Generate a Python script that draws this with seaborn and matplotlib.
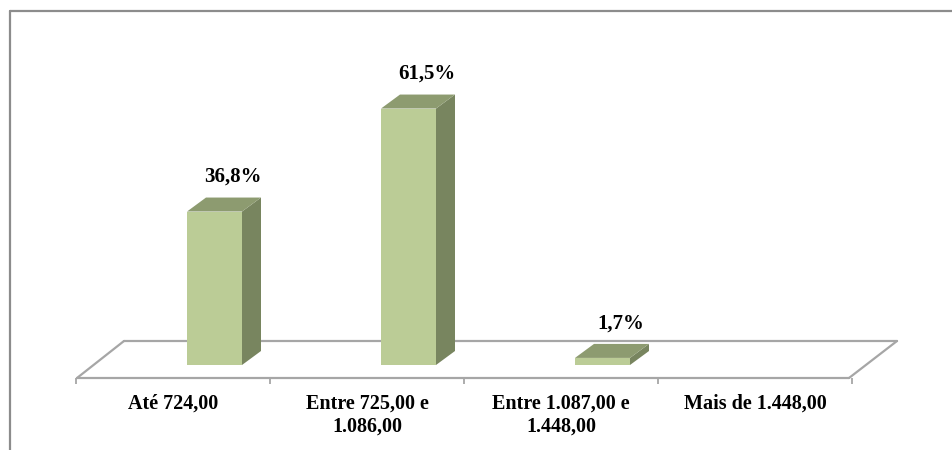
import numpy as np
import pandas as pd
import matplotlib
matplotlib.use("Agg")
import matplotlib.pyplot as plt
from matplotlib.patches import Polygon
from matplotlib.lines import Line2D
from matplotlib.ticker import FixedLocator
import seaborn as sns

# Income bracket (R$) shares
categories = ["Até 724,00", "Entre 725,00 e 1.086,00",
              "Entre 1.087,00 e 1.448,00", "Mais de 1.448,00"]
tick_labels = ["Até 724,00", "Entre 725,00 e\n1.086,00",
               "Entre 1.087,00 e\n1.448,00", "Mais de 1.448,00"]
percent = [36.8, 61.5, 1.7, 0.0]

df = pd.DataFrame({"faixa": categories, "pct": percent})

FRONT = "#BBCC96"
SIDE = "#78855F"
TOP = "#8D9B70"
GRID = "#A6A6A6"

sns.set_theme(style="white")
plt.rcParams["font.family"] = ["Liberation Serif", "DejaVu Serif"]

W, H = 952, 450
fig = plt.figure(figsize=(W / 100, H / 100), dpi=100)
ax = fig.add_axes([0, 1 - 378 / H, 1, 378 / H])

# pixel-to-data scale of the plot
px_per_cat = 194.0
px_per_pct = 4.17
x0_px = 214.5
base_px = 365.0

bar_w = 55 / px_per_cat
sns.barplot(data=df, x="faixa", y="pct", color=FRONT, width=bar_w,
            saturation=1, ax=ax, zorder=3, edgecolor="none")

ax.set_xlim((0 - x0_px) / px_per_cat, (W - x0_px) / px_per_cat)
ax.set_ylim((base_px - 378) / px_per_pct, base_px / px_per_pct)
ylo = ax.get_ylim()[0]

# floor of the 3-D plot area
fx_front = [(77 - x0_px) / px_per_cat, (849 - x0_px) / px_per_cat]
fx_back = [(124 - x0_px) / px_per_cat, (897 - x0_px) / px_per_cat]
fy_back = (base_px - 341) / px_per_pct
ax.plot(fx_front, [ylo, ylo], color=GRID, lw=1.6, zorder=1, clip_on=False)
ax.plot(fx_back, [fy_back, fy_back], color=GRID, lw=1.6, zorder=1)
ax.plot([fx_front[0], fx_back[0]], [ylo, fy_back], color=GRID, lw=1.6, zorder=1, clip_on=False)
ax.plot([fx_front[1], fx_back[1]], [ylo, fy_back], color=GRID, lw=1.6, zorder=1, clip_on=False)

# depth faces of each column
ddx = 19 / px_per_cat
ddy = 14 / px_per_pct
for patch, v in zip(ax.patches, percent):
    if v <= 0:
        continue
    x = patch.get_x()
    w = patch.get_width()
    y0 = patch.get_y()
    y1 = y0 + patch.get_height()
    side = Polygon([(x + w, y0), (x + w + ddx, y0 + ddy),
                    (x + w + ddx, y1 + ddy), (x + w, y1)],
                   closed=True, facecolor=SIDE, edgecolor="none", zorder=3)
    top = Polygon([(x, y1), (x + w, y1), (x + w + ddx, y1 + ddy),
                   (x + ddx, y1 + ddy)],
                  closed=True, facecolor=TOP, edgecolor="none", zorder=3)
    ax.add_patch(side)
    ax.add_patch(top)
    label = f"{v:.1f}".replace(".", ",") + "%"
    ax.annotate(label, (x + w / 2, y1), xytext=(13, 25),
                textcoords="offset points", ha="center", va="center",
                fontsize=15, fontweight="bold", color="black")

# category labels and divider ticks
pos = np.arange(len(categories))
ax.set_xticks(pos - 0.214, labels=tick_labels)
ax.xaxis.set_minor_locator(FixedLocator(np.arange(len(categories) + 1) - 0.714))
ax.tick_params(axis="x", which="major", length=0, pad=11, labelsize=14.5,
               labelcolor="black")
ax.tick_params(axis="x", which="minor", length=4, width=1.3, color=GRID,
               direction="out", bottom=True)
for lab in ax.get_xticklabels():
    lab.set_fontweight("bold")
    lab.set_linespacing(1.2)
ax.set_yticks([])
ax.set_xlabel("")
ax.set_ylabel("")
for s in ax.spines.values():
    s.set_visible(False)
ax.patch.set_alpha(0)

# chart border
bx = 9.5 / W
by = 1 - 11 / H
fig.add_artist(Line2D([bx, bx], [-0.05, by], transform=fig.transFigure,
                      color="#8C8C8C", lw=1.6))
fig.add_artist(Line2D([bx, 1.05], [by, by], transform=fig.transFigure,
                      color="#8C8C8C", lw=1.6))

fig.savefig("out.png", dpi=100)
